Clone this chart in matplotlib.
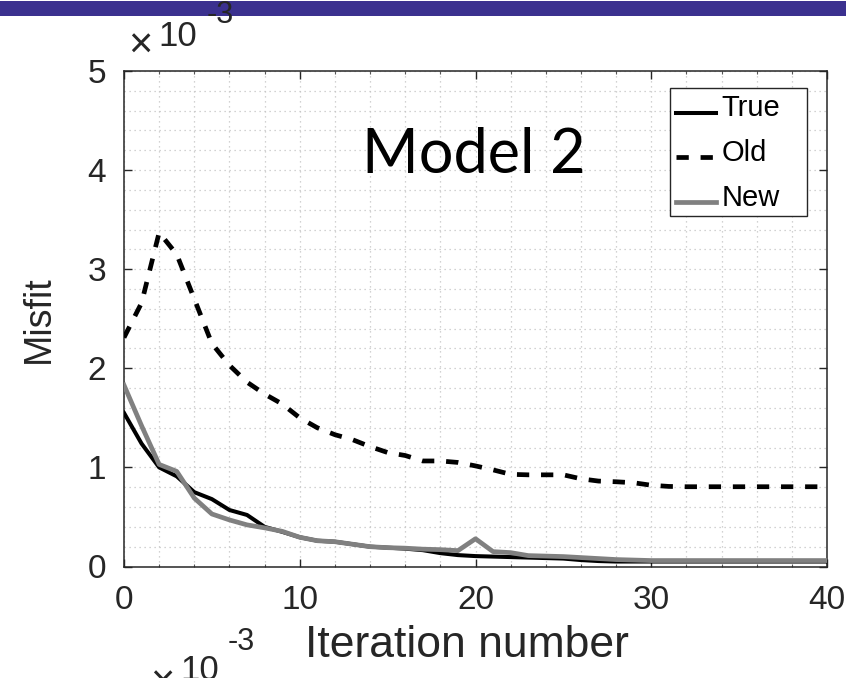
import matplotlib
matplotlib.use('Agg')
import matplotlib.pyplot as plt
from matplotlib.patches import Rectangle
from matplotlib.ticker import MultipleLocator
from matplotlib.legend_handler import HandlerLine2D

# ---- data (misfit values in units of 1e-3) ----
iterations = list(range(41))
true_misfit = [1.55, 1.24, 1.00, 0.91, 0.75, 0.68, 0.57, 0.52, 0.40, 0.35,
               0.295, 0.26, 0.25, 0.225, 0.20, 0.19, 0.18, 0.165, 0.135, 0.115,
               0.105, 0.10, 0.095, 0.09, 0.085, 0.08, 0.065, 0.055, 0.05, 0.05,
               0.05, 0.05, 0.05, 0.05, 0.05, 0.05, 0.05, 0.05, 0.05, 0.05, 0.05]
old_misfit = [2.31, 2.66, 3.37, 3.15, 2.70, 2.25, 2.03, 1.86, 1.74, 1.64,
              1.50, 1.40, 1.33, 1.28, 1.21, 1.15, 1.12, 1.065, 1.065, 1.05,
              1.015, 0.975, 0.93, 0.925, 0.925, 0.925, 0.885, 0.862, 0.855, 0.845,
              0.82, 0.808, 0.805, 0.805, 0.805, 0.805, 0.805, 0.805, 0.805, 0.805, 0.805]
new_misfit = [1.83, 1.42, 1.03, 0.96, 0.69, 0.53, 0.47, 0.42, 0.39, 0.355,
              0.295, 0.26, 0.25, 0.225, 0.20, 0.19, 0.185, 0.175, 0.17, 0.16,
              0.28, 0.15, 0.14, 0.11, 0.105, 0.10, 0.09, 0.08, 0.07, 0.065,
              0.06, 0.06, 0.06, 0.06, 0.06, 0.06, 0.06, 0.06, 0.06, 0.06, 0.06]
series_labels = ['True', 'Old', 'New']
x_ticks = [0, 10, 20, 30, 40]
y_ticks = [0, 1, 2, 3, 4, 5]
title_text = 'Model 2'
x_label = 'Iteration number'
y_label = 'Misfit'

plt.rcParams['font.family'] = ['Liberation Sans', 'DejaVu Sans']

W, H = 846, 678
AX_L, AX_R, AX_T, AX_B = 124, 827, 71, 566.5
fig = plt.figure(figsize=(W / 100, H / 100), dpi=100)


def axfrac(px, py):
    return ((px - AX_L) / (AX_R - AX_L), (AX_B - py) / (AX_B - AX_T))


# slide header bar
fig.patches.append(Rectangle((0, 1 - 16 / H), 1, 15 / H, transform=fig.transFigure,
                             facecolor='#3B318F', edgecolor='none', zorder=0))

ax = fig.add_axes([AX_L / W, 1 - AX_B / H, (AX_R - AX_L) / W, (AX_B - AX_T) / H])
ax.set_facecolor('white')

ax.plot(iterations, true_misfit, color='black', lw=2.9, label=series_labels[0],
        solid_joinstyle='round', zorder=3)
ax.plot(iterations, old_misfit, color='black', lw=3.4, label=series_labels[1],
        dashes=(2.6, 2.5), dash_capstyle='butt', zorder=3)
ax.plot(iterations, new_misfit, color='#808080', lw=3.4, label=series_labels[2],
        solid_joinstyle='round', zorder=4)

ax.set_xlim(0, 40)
ax.set_ylim(0, 5)
ax.set_xticks(x_ticks)
ax.set_yticks(y_ticks)
ax.xaxis.set_minor_locator(MultipleLocator(2))
ax.yaxis.set_minor_locator(MultipleLocator(0.2))
ax.grid(which='both', color='#c4c4c4', linestyle=(0, (1, 3)), linewidth=0.9)
ax.set_axisbelow(True)

ax.tick_params(which='major', direction='in', length=6, width=1.0, top=True, right=True,
               labelsize=24, pad=13, colors='#262626', labelcolor='#262626')
ax.tick_params(axis='y', which='minor', length=0)
ax.tick_params(axis='x', which='minor', direction='in', length=2.5, width=0.8,
               top=True, bottom=True, colors='#555555')
for s in ax.spines.values():
    s.set_color('#262626')
    s.set_linewidth(1.1)

ax.set_xlabel(x_label, fontsize=32, color='#262626', labelpad=8)
ax.xaxis.set_label_coords(0.488, -0.118)
ax.set_ylabel(y_label, fontsize=27, color='#262626', labelpad=22)

ax.text(0.498, 0.83, title_text, transform=ax.transAxes, ha='center', va='center',
        fontsize=44, family=['Lato', 'DejaVu Sans'], color='black')


class LowLineHandler(HandlerLine2D):
    """Legend sample drawn slightly below the text centre, as in the reference."""
    def create_artists(self, legend, orig_handle, xdescent, ydescent, width, height,
                       fontsize, trans):
        arts = super().create_artists(legend, orig_handle, xdescent, ydescent, width,
                                      height, fontsize, trans)
        for a in arts:
            a.set_ydata([y - 0.33 * height for y in a.get_ydata()])
        return arts


# legend box (MATLAB-style, with extra room on the right)
bx0, by0 = axfrac(670, 216)
bx1, by1 = axfrac(807, 88)
ax.add_patch(Rectangle((bx0, by0), bx1 - bx0, by1 - by0, transform=ax.transAxes,
                       facecolor='white', edgecolor='#262626', linewidth=1.0, zorder=4.8))

leg = ax.legend(loc='upper left', bbox_to_anchor=axfrac(676, 94),
                fontsize=21, frameon=False, handlelength=1.37,
                handletextpad=0.2, labelspacing=0.58, borderpad=0.0,
                borderaxespad=0, handler_map={matplotlib.lines.Line2D: LowLineHandler()})
leg.set_zorder(5)

# exponent multiplier (top)
fig.text(128 / W, 1 - 47 / H, '×', fontsize=30, ha='left', va='center', color='#262626')
fig.text(158 / W, 1 - 37 / H, '10', fontsize=25, ha='left', va='center', color='#262626')
fig.text(207 / W, 1 - 15 / H, '-3', fontsize=22, ha='left', va='center', color='#262626')

# exponent of next panel (partially visible at bottom)
fig.text(150 / W, 1 - 684 / H, '×', fontsize=30, ha='left', va='center', color='#262626')
fig.text(180 / W, 1 - 654 / H, '10', fontsize=25, ha='left', va='top', color='#262626')
fig.text(228 / W, 1 - 627 / H, '-3', fontsize=22, ha='left', va='top', color='#262626')

fig.savefig('out.png', dpi=100)
